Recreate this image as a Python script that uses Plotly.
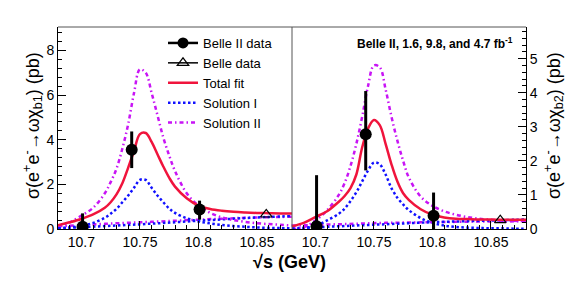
import plotly.graph_objects as go

# ---------------- data ----------------
fit_x = [10.68, 10.69, 10.70, 10.71, 10.72, 10.725, 10.73, 10.735, 10.74, 10.745,
         10.75, 10.755, 10.76, 10.765, 10.77, 10.775, 10.78, 10.79, 10.80, 10.81,
         10.82, 10.83, 10.84, 10.85, 10.86, 10.87, 10.88]
cont_x = [10.68, 10.70, 10.72, 10.74, 10.76, 10.78, 10.80, 10.82, 10.84, 10.86, 10.88]

# chi_b1 panel
b1_total = [0.17, 0.30, 0.45, 0.65, 0.95, 1.20, 1.55, 2.05, 2.75, 3.50,
            4.25, 4.30, 3.90, 3.35, 2.80, 2.30, 1.90, 1.38, 1.05, 0.90,
            0.82, 0.77, 0.74, 0.72, 0.71, 0.70, 0.70]
b1_sol1_res = [0.03, 0.07, 0.14, 0.27, 0.50, 0.68, 0.90, 1.20, 1.50, 1.85,
               2.20, 2.20, 1.85, 1.50, 1.20, 0.92, 0.72, 0.48, 0.34, 0.25,
               0.18, 0.13, 0.10, 0.07, 0.05, 0.04, 0.03]
b1_sol2_res = [0.10, 0.30, 0.60, 0.95, 1.60, 2.10, 2.70, 3.60, 4.70, 6.10,
               7.15, 7.00, 6.10, 5.10, 4.10, 3.30, 2.60, 1.60, 1.05, 0.72,
               0.52, 0.40, 0.32, 0.26, 0.22, 0.19, 0.16]
b1_sol1_cont = [0.03, 0.08, 0.13, 0.18, 0.24, 0.30, 0.37, 0.43, 0.49, 0.54, 0.58]
b1_sol2_cont = [0.12, 0.18, 0.23, 0.28, 0.32, 0.37, 0.42, 0.46, 0.50, 0.53, 0.55]

# chi_b2 panel
b2_total = [0.08, 0.18, 0.35, 0.52, 0.80, 0.97, 1.20, 1.60, 2.40, 2.95,
            3.20, 3.05, 2.50, 1.90, 1.40, 1.05, 0.85, 0.58, 0.42, 0.34,
            0.30, 0.29, 0.28, 0.28, 0.27, 0.27, 0.27]
b2_sol1_res = [0.00, 0.02, 0.10, 0.25, 0.45, 0.60, 0.82, 1.08, 1.40, 1.72,
               1.95, 1.90, 1.60, 1.20, 0.92, 0.72, 0.55, 0.32, 0.18, 0.10,
               0.06, 0.04, 0.03, 0.02, 0.02, 0.01, 0.01]
b2_sol2_res = [0.00, 0.05, 0.25, 0.55, 1.00, 1.35, 1.85, 2.50, 3.30, 4.20,
               4.80, 4.75, 4.10, 3.30, 2.60, 2.00, 1.50, 0.95, 0.68, 0.52,
               0.42, 0.35, 0.30, 0.27, 0.25, 0.24, 0.23]
b2_sol1_cont = [0.02, 0.05, 0.08, 0.11, 0.14, 0.17, 0.20, 0.22, 0.24, 0.26, 0.28]
b2_sol2_cont = [0.10, 0.12, 0.14, 0.16, 0.18, 0.19, 0.20, 0.21, 0.22, 0.22, 0.23]

# measurements
belle2_x = [10.701, 10.743, 10.801]
b1_belle2_y = [0.10, 3.55, 0.87]
b1_belle2_up = [0.60, 0.82, 0.40]
b1_belle2_dn = [0.10, 0.82, 0.45]
b2_belle2_y = [0.08, 2.78, 0.39]
b2_belle2_up = [1.50, 1.27, 0.68]
b2_belle2_dn = [0.08, 1.06, 0.39]
belle_x = [10.858]
b1_belle_y = [0.65]
b2_belle_y = [0.26]

x_tickvals = [10.7, 10.75, 10.8, 10.85]
x_ticktext = ["10.7", "10.75", "10.8", "10.85"]

# ---------------- styles ----------------
RED = "#f0143c"
BLUE = "#1010ff"
MAG = "#c814f5"
FONT = "Liberation Sans, Arial, sans-serif"
W, H = 582, 285
DOT = "2.5px,2.5px"
DASHDOT = "4px,3px,1.5px,3px"

fig = go.Figure()

def add_panel(xa, ya, total, s1r, s2r, s1c, s2c, by, bup, bdn, bly):
    fig.add_trace(go.Scatter(x=cont_x, y=s2c, mode="lines", line=dict(color=MAG, width=2.5, dash=DASHDOT, shape="spline"),
                             xaxis=xa, yaxis=ya, showlegend=False, hoverinfo="skip"))
    fig.add_trace(go.Scatter(x=cont_x, y=s1c, mode="lines", line=dict(color=BLUE, width=2.5, dash=DOT, shape="spline"),
                             xaxis=xa, yaxis=ya, showlegend=False, hoverinfo="skip"))
    fig.add_trace(go.Scatter(x=fit_x, y=s2r, mode="lines", line=dict(color=MAG, width=2.5, dash=DASHDOT, shape="spline"),
                             xaxis=xa, yaxis=ya, showlegend=False, hoverinfo="skip"))
    fig.add_trace(go.Scatter(x=fit_x, y=s1r, mode="lines", line=dict(color=BLUE, width=2.5, dash=DOT, shape="spline"),
                             xaxis=xa, yaxis=ya, showlegend=False, hoverinfo="skip"))
    fig.add_trace(go.Scatter(x=fit_x, y=total, mode="lines", line=dict(color=RED, width=2.5, shape="spline"),
                             xaxis=xa, yaxis=ya, showlegend=False, hoverinfo="skip"))
    fig.add_trace(go.Scatter(x=belle2_x, y=by, mode="markers",
                             marker=dict(symbol="circle", size=12, color="black"),
                             error_y=dict(type="data", symmetric=False, array=bup, arrayminus=bdn,
                                          color="black", thickness=3, width=0),
                             xaxis=xa, yaxis=ya, showlegend=False))
    fig.add_trace(go.Scatter(x=belle_x, y=bly, mode="markers",
                             marker=dict(symbol="triangle-up-open", size=10, color="black", line=dict(width=1.2)),
                             xaxis=xa, yaxis=ya, showlegend=False))

add_panel("x", "y", b1_total, b1_sol1_res, b1_sol2_res, b1_sol1_cont, b1_sol2_cont,
          b1_belle2_y, b1_belle2_up, b1_belle2_dn, b1_belle_y)
add_panel("x2", "y2", b2_total, b2_sol1_res, b2_sol2_res, b2_sol1_cont, b2_sol2_cont,
          b2_belle2_y, b2_belle2_up, b2_belle2_dn, b2_belle_y)

# legend entries
fig.add_trace(go.Scatter(x=[None], y=[None], mode="lines+markers", name="Belle II data",
                         line=dict(color="black", width=2.5), marker=dict(symbol="circle", size=11, color="black")))
fig.add_trace(go.Scatter(x=[None], y=[None], mode="lines+markers", name="Belle data",
                         line=dict(color="black", width=1.5),
                         marker=dict(symbol="triangle-up-open", size=10, color="black", line=dict(width=1.2))))
fig.add_trace(go.Scatter(x=[None], y=[None], mode="lines", name="Total fit", line=dict(color=RED, width=2.5)))
fig.add_trace(go.Scatter(x=[None], y=[None], mode="lines", name="Solution I",
                         line=dict(color=BLUE, width=2.5, dash=DOT)))
fig.add_trace(go.Scatter(x=[None], y=[None], mode="lines", name="Solution II",
                         line=dict(color=MAG, width=2.5, dash=DASHDOT)))

xl0, xl1, xr1 = 58 / W, 292 / W, 526 / W
yb, yt = 1 - 229 / H, 1 - 27 / H

common_x = dict(range=[10.68, 10.88], tickmode="array", tickvals=x_tickvals, ticktext=x_ticktext,
                ticks="inside", ticklen=8, tickcolor="black", showline=True, linecolor="black",
                linewidth=1, showgrid=False, zeroline=False, automargin=False,
                tickfont=dict(family=FONT, size=14, color="black"),
                minor=dict(ticks="inside", ticklen=4, tickcolor="black", tickmode="linear",
                           tick0=10.68, dtick=0.01))

fig.update_layout(
    width=W, height=H,
    margin=dict(l=0, r=0, t=0, b=0, autoexpand=False),
    paper_bgcolor="white", plot_bgcolor="white",
    font=dict(family=FONT, color="black"),
    xaxis=dict(domain=[xl0, xl1], anchor="y", **common_x),
    xaxis2=dict(domain=[xl1, xr1], anchor="y2", **common_x),
    yaxis=dict(domain=[yb, yt], anchor="x", range=[0, 9.05], tickmode="linear", tick0=0, dtick=2,
               ticks="inside", ticklen=8, tickcolor="black", showline=True, linecolor="black",
               showgrid=False, zeroline=False, automargin=False,
               tickfont=dict(family=FONT, size=14, color="black"),
               minor=dict(ticks="inside", ticklen=4, tickcolor="black", dtick=0.4)),
    yaxis2=dict(domain=[yb, yt], anchor="x2", side="right", range=[0, 5.93], tickmode="linear",
                tick0=0, dtick=1, ticks="inside", ticklen=8, tickcolor="black", showline=True,
                linecolor="black", showgrid=False, zeroline=False, automargin=False,
                tickfont=dict(family=FONT, size=14, color="black"),
                minor=dict(ticks="inside", ticklen=4, tickcolor="black", dtick=0.2)),
    legend=dict(x=163 / W, y=1 - 28 / H, xanchor="left", yanchor="top", bgcolor="rgba(0,0,0,0)",
                font=dict(family=FONT, size=13, color="black"), itemwidth=30, tracegroupgap=0),
    showlegend=True,
)

# frame lines (top and separator)
fig.add_shape(type="line", xref="paper", yref="paper", x0=xl0, x1=xr1, y0=yt, y1=yt,
              line=dict(color="#555555", width=1))
fig.add_shape(type="line", xref="paper", yref="paper", x0=xl1, x1=xl1, y0=yb, y1=yt,
              line=dict(color="#555555", width=1))

fig.add_annotation(xref="paper", yref="paper", x=32 / W, y=1 - 126 / H, showarrow=False, textangle=-90,
                   xanchor="center", yanchor="middle",
                   text="σ(e<sup>+</sup>e<sup>-</sup>→ωχ<sub>b1</sub>) (pb)",
                   font=dict(family=FONT, size=18, color="black"))
fig.add_annotation(xref="paper", yref="paper", x=553 / W, y=1 - 126 / H, showarrow=False, textangle=-90,
                   xanchor="center", yanchor="middle",
                   text="σ(e<sup>+</sup>e<sup>-</sup>→ωχ<sub>b2</sub>) (pb)",
                   font=dict(family=FONT, size=18, color="black"))
fig.add_annotation(xref="paper", yref="paper", x=289 / W, y=1 - 262 / H, showarrow=False,
                   xanchor="center", yanchor="middle",
                   text="<b>√s (GeV)</b>", font=dict(family=FONT, size=18, color="black"))
fig.add_annotation(xref="paper", yref="paper", x=515 / W, y=1 - 43 / H, showarrow=False,
                   xanchor="right", yanchor="middle",
                   text="<b>Belle II, 1.6, 9.8, and 4.7 fb<sup>-1</sup></b>",
                   font=dict(family=FONT, size=12, color="black"))

fig.write_html("out.html", config={"displayModeBar": False},
               post_script="document.body.style.margin='0';document.body.style.padding='0';document.body.style.overflow='hidden';")
